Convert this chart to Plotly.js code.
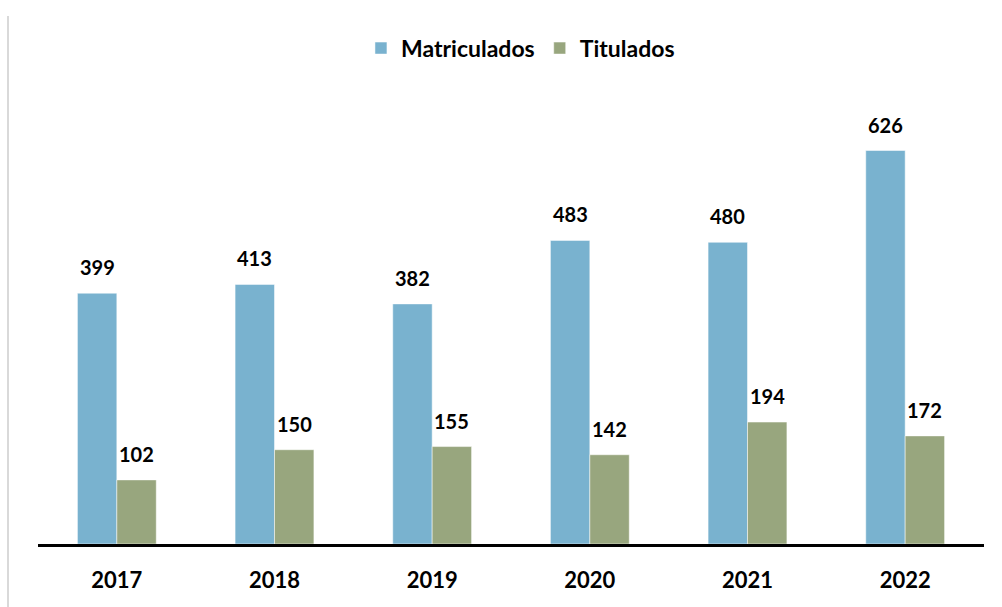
<!DOCTYPE html>
<html><head><meta charset="utf-8">
<script src="https://cdn.plot.ly/plotly-3.0.1.min.js"></script>
<style>html,body{margin:0;padding:0;background:#fff}#chart{width:1002px;height:607px}</style>
</head><body><div id="chart"></div>
<script>
const years = ['2017','2018','2019','2020','2021','2022'];
const matriculados = [399, 413, 382, 483, 480, 626];
const titulados = [102, 150, 155, 142, 194, 172];
const seriesNames = ['Matriculados', 'Titulados'];

const blue = '#79B2CF', green = '#98A67E';
const FONT = 'Lato, "Open Sans", sans-serif';

const traces = [
  {type:'bar', name:seriesNames[0], x:years, y:matriculados, marker:{color:blue, line:{color:'#ffffff', width:0.5}}, hoverinfo:'none'},
  {type:'bar', name:seriesNames[1], x:years, y:titulados, marker:{color:green, line:{color:'#ffffff', width:0.5}}, hoverinfo:'none'}
];

const annotations = [];
const off = 19.7;
years.forEach((yr,i)=>{
  annotations.push({xref:'x', yref:'y', x:i, y:matriculados[i], text:'<b>'+matriculados[i]+'</b>', showarrow:false, xshift:-off, yshift:12, yanchor:'bottom', font:{family:FONT, size:20, color:'#000'}});
  annotations.push({xref:'x', yref:'y', x:i, y:titulados[i], text:'<b>'+titulados[i]+'</b>', showarrow:false, xshift:off, yshift:12, yanchor:'bottom', font:{family:FONT, size:20, color:'#000'}});
});

const layout = {
  width:1002, height:607,
  margin:{l:38, r:18, t:104, b:63, pad:0},
  paper_bgcolor:'#fff', plot_bgcolor:'#fff',
  barmode:'group', bargap:0.5, bargroupgap:0,
  font:{family:FONT, color:'#000'},
  xaxis:{type:'category', range:[-0.5, 5.5], showline:true, linecolor:'#000', linewidth:3, ticks:'', showgrid:false, zeroline:false,
    tickfont:{family:FONT, size:22, color:'#000', weight:'bold'}, ticklabelstandoff:15},
  yaxis:{range:[0,700], visible:false, showgrid:false, zeroline:false},
  showlegend:true,
  legend:{orientation:'h', x:0.51, xanchor:'center', y:1.127, yanchor:'middle', font:{family:FONT, size:23, color:'#000', weight:'bold'}, traceorder:'normal'},
  annotations:annotations,
  shapes:[{type:'line', xref:'paper', yref:'paper', x0:-0.0317, x1:-0.0317, y0:-0.143, y1:1.2, line:{color:'#d9d9d9', width:2}}]
};

Plotly.newPlot('chart', traces, layout, {displayModeBar:false, staticPlot:true});
</script></body></html>
